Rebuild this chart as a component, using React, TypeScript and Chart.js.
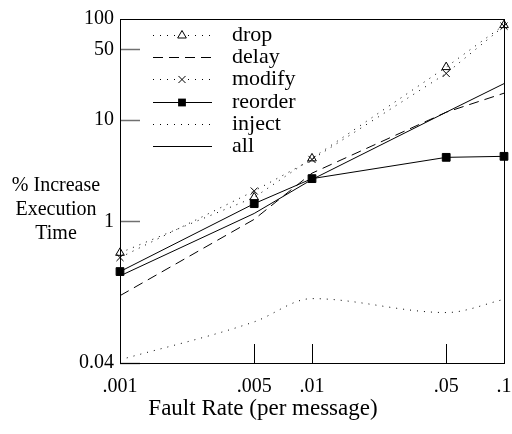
import { useEffect, useRef } from 'react';
import { Chart, registerables } from 'chart.js';

Chart.register(...registerables);

const faultRates = [0.001, 0.005, 0.01, 0.05, 0.1];
const xTickLabels = ['.001', '.005', '.01', '.05', '.1'];
const yTickValues = [0.04, 1, 10, 50, 100];
const yTickLabels = ['0.04', '1', '10', '50', '100'];

const dropValues = [0.49, 1.73, 4.2, 33.5, 87];
const delayValues = [0.185, 1.05, 3.0, 12, 18.5];
const modifyValues = [0.44, 2.0, 4.1, 29, 85];
const reorderValues = [0.32, 1.5, 2.65, 4.3, 4.4];
const injectValues = [0.043, 0.102, 0.173, 0.126, 0.17];
const allValues = [0.29, 1.2, 2.6, 12, 23];

const yTitleLines = ['% Increase', 'Execution', 'Time'];
const xTitle = 'Fault Rate (per message)';

const FONT = "'Liberation Serif', 'Times New Roman', serif";

function drawMarker(ctx: CanvasRenderingContext2D, style: string, r: number, x: number, y: number) {
  ctx.beginPath();
  if (style === 'triangle') {
    ctx.moveTo(x, y - r);
    ctx.lineTo(x + r * 0.866, y + r * 0.5);
    ctx.lineTo(x - r * 0.866, y + r * 0.5);
    ctx.closePath();
    ctx.stroke();
  } else if (style === 'crossRot') {
    const s = r * 0.7071;
    ctx.moveTo(x - s, y - s);
    ctx.lineTo(x + s, y + s);
    ctx.moveTo(x - s, y + s);
    ctx.lineTo(x + s, y - s);
    ctx.stroke();
  } else if (style === 'rect') {
    const s = r * 0.7071;
    ctx.fillRect(x - s, y - s, 2 * s, 2 * s);
  }
}

const overlayPlugin = {
  id: 'overlay',
  beforeDatasetsDraw(chart: any) {
    const { ctx, chartArea, scales } = chart;
    ctx.save();
    ctx.strokeStyle = '#707070';
    ctx.lineWidth = 1.5;
    yTickValues.forEach((v) => {
      if (v >= 100) return;
      const y = Math.round(scales.y.getPixelForValue(v)) + 0.5;
      ctx.beginPath();
      ctx.moveTo(chartArea.left, y);
      ctx.lineTo(chartArea.left + 20, y);
      ctx.stroke();
    });
    ctx.strokeStyle = '#000';
    ctx.lineWidth = 1;
    faultRates.forEach((v, i) => {
      if (i === 0) return;
      const x = Math.round(scales.x.getPixelForValue(v)) + 0.5;
      ctx.beginPath();
      ctx.moveTo(x, chartArea.bottom);
      ctx.lineTo(x, chartArea.bottom - 19);
      ctx.stroke();
    });
    ctx.restore();
  },
  afterDraw(chart: any) {
    const { ctx, chartArea } = chart;
    ctx.save();
    ctx.strokeStyle = '#000';
    ctx.lineWidth = 1;
    ctx.strokeRect(
      Math.round(chartArea.left) + 0.5,
      Math.round(chartArea.top) + 0.5,
      Math.round(chartArea.right - chartArea.left),
      Math.round(chartArea.bottom - chartArea.top)
    );
    ctx.fillStyle = '#000';
    ctx.font = `20px ${FONT}`;
    ctx.textAlign = 'center';
    ctx.textBaseline = 'middle';
    yTitleLines.forEach((t, i) => ctx.fillText(t, 56, 186 + i * 24));
    ctx.font = `23px ${FONT}`;
    ctx.fillText(xTitle, 263, 409);
    const rowY0 = 35;
    const rowGap = 22.2;
    chart.data.datasets.forEach((ds: any, i: number) => {
      const y = Math.round(rowY0 + i * rowGap) + 0.5;
      ctx.save();
      ctx.strokeStyle = ds.borderColor;
      ctx.lineWidth = ds.borderWidth;
      ctx.setLineDash(ds.borderDash || []);
      ctx.beginPath();
      ctx.moveTo(153, y);
      ctx.lineTo(212, y);
      ctx.stroke();
      ctx.restore();
      if (ds.pointRadius > 0) {
        ctx.save();
        ctx.fillStyle = '#fff';
        ctx.fillRect(176, y - 6, 12, 12);
        ctx.strokeStyle = '#000';
        ctx.fillStyle = '#000';
        ctx.lineWidth = 1;
        if (ds.pointStyle === 'rect') {
          ctx.beginPath();
          ctx.moveTo(170, y);
          ctx.lineTo(194, y);
          ctx.stroke();
        }
        drawMarker(ctx, ds.pointStyle, ds.pointRadius, 182, y);
        ctx.restore();
      }
      ctx.fillStyle = '#000';
      ctx.font = `22px ${FONT}`;
      ctx.textAlign = 'left';
      ctx.textBaseline = 'middle';
      ctx.fillText(ds.label, 232, y);
    });
    ctx.restore();
  },
};

export default function App() {
  const ref = useRef<HTMLCanvasElement>(null);
  useEffect(() => {
    if (!ref.current) return;
    const mk = (label: string, data: number[], extra: any) => ({
      label,
      data: faultRates.map((x, i) => ({ x, y: data[i] })),
      borderColor: '#000',
      borderWidth: 1,
      pointRadius: 0,
      pointBorderColor: '#000',
      pointBorderWidth: 1,
      pointBackgroundColor: 'rgba(0,0,0,0)',
      fill: false,
      tension: 0,
      clip: false,
      ...extra,
    });
    const chart = new Chart(ref.current, {
      type: 'line',
      data: {
        datasets: [
          mk('drop', dropValues, { borderDash: [1, 6], pointStyle: 'triangle', pointRadius: 5 }),
          mk('delay', delayValues, { borderDash: [10, 6] }),
          mk('modify', modifyValues, { borderDash: [1, 6], pointStyle: 'crossRot', pointRadius: 5 }),
          mk('reorder', reorderValues, { pointStyle: 'rect', pointRadius: 5.5, pointBackgroundColor: '#000' }),
          mk('inject', injectValues, { borderDash: [1, 6], cubicInterpolationMode: 'monotone' }),
          mk('all', allValues, {}),
        ] as any,
      },
      options: {
        responsive: false,
        animation: false,
        layout: { padding: { top: 19, right: 8, left: 0, bottom: 0 } },
        plugins: { legend: { display: false }, tooltip: { enabled: false } },
        scales: {
          x: {
            type: 'logarithmic',
            min: 0.001,
            max: 0.1,
            grid: { display: false, drawTicks: false },
            border: { display: true, color: '#000', width: 1 },
            afterBuildTicks: (s: any) => {
              s.ticks = faultRates.map((v) => ({ value: v }));
            },
            afterFit: (s: any) => {
              s.height = 71;
              s.paddingLeft = 0;
              s.paddingRight = 0;
            },
            ticks: {
              autoSkip: false,
              maxRotation: 0,
              padding: 12,
              color: '#000',
              font: { family: FONT, size: 20 },
              callback: (_v: any, i: number) => xTickLabels[i],
            },
          },
          y: {
            type: 'logarithmic',
            min: 0.04,
            max: 100,
            grid: { display: false, drawTicks: false },
            border: { display: true, color: '#000', width: 1 },
            afterBuildTicks: (s: any) => {
              s.ticks = yTickValues.map((v) => ({ value: v }));
            },
            afterFit: (s: any) => {
              s.width = 120;
              s.paddingTop = 0;
              s.paddingBottom = 0;
            },
            ticks: {
              autoSkip: false,
              padding: 6,
              color: '#000',
              font: { family: FONT, size: 20 },
              callback: (_v: any, i: number) => yTickLabels[i],
            },
          },
        },
      } as any,
      plugins: [overlayPlugin],
    });
    return () => chart.destroy();
  }, []);
  return (
    <canvas
      ref={ref}
      width={512}
      height={434}
      style={{ position: 'fixed', left: 0, top: 0, width: 512, height: 434, background: '#fff' }}
    />
  );
}
